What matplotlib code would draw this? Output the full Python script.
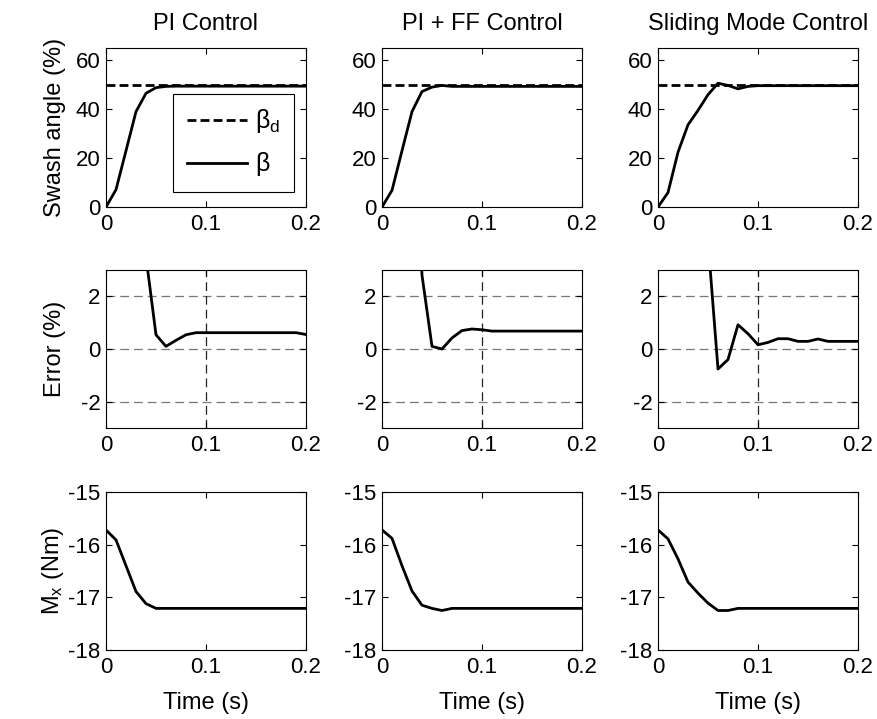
import numpy as np
import matplotlib.pyplot as plt

plt.rcParams['font.family'] = ['Liberation Sans', 'DejaVu Sans']
plt.rcParams['mathtext.fontset'] = 'custom'
plt.rcParams['mathtext.rm'] = 'Liberation Sans'
plt.rcParams['mathtext.it'] = 'Liberation Sans'
plt.rcParams['axes.unicode_minus'] = False

# time samples (s)
t = [0.00, 0.01, 0.02, 0.03, 0.04, 0.05, 0.06, 0.07, 0.08, 0.09, 0.10,
     0.11, 0.12, 0.13, 0.14, 0.15, 0.16, 0.17, 0.18, 0.19, 0.20]

titles = ["PI Control", "PI + FF Control", "Sliding Mode Control"]
beta_d = 50.0

# swash angle (%)
beta_pi = [0, 7.1, 23, 39, 46.5, 48.8, 49.3, 49.4, 49.4, 49.4, 49.4,
           49.4, 49.4, 49.4, 49.4, 49.4, 49.4, 49.4, 49.4, 49.4, 49.4]
beta_ff = [0, 6.8, 23, 39, 47.2, 49.0, 49.7, 49.3, 49.3, 49.3, 49.3,
           49.3, 49.3, 49.3, 49.3, 49.3, 49.3, 49.3, 49.3, 49.3, 49.3]
beta_smc = [0, 5.9, 22.4, 33.6, 39.5, 45.9, 50.6, 49.7, 48.3, 49.3, 49.6,
            49.6, 49.6, 49.6, 49.6, 49.6, 49.6, 49.6, 49.6, 49.6, 49.6]

# error (%)
err_pi = [50, 42.9, 27, 11, 3.5, 0.54, 0.1, 0.33, 0.54, 0.62, 0.62,
          0.62, 0.62, 0.62, 0.62, 0.62, 0.62, 0.62, 0.62, 0.62, 0.55]
err_ff = [50, 43.2, 27, 11, 2.8, 0.1, 0.0, 0.42, 0.7, 0.76, 0.73,
          0.68, 0.68, 0.68, 0.68, 0.68, 0.68, 0.68, 0.68, 0.68, 0.68]
err_smc = [50, 44.1, 27.6, 16.4, 10.5, 4.1, -0.76, -0.4, 0.92, 0.58, 0.16,
           0.25, 0.39, 0.39, 0.29, 0.29, 0.38, 0.29, 0.29, 0.29, 0.29]

# moment Mx (Nm)
mx_pi = [-15.72, -15.91, -16.4, -16.89, -17.12, -17.21, -17.21, -17.21, -17.21, -17.21, -17.21,
         -17.21, -17.21, -17.21, -17.21, -17.21, -17.21, -17.21, -17.21, -17.21, -17.21]
mx_ff = [-15.72, -15.88, -16.4, -16.88, -17.15, -17.21, -17.25, -17.21, -17.21, -17.21, -17.21,
         -17.21, -17.21, -17.21, -17.21, -17.21, -17.21, -17.21, -17.21, -17.21, -17.21]
mx_smc = [-15.72, -15.89, -16.27, -16.71, -16.92, -17.11, -17.25, -17.25, -17.21, -17.21, -17.21,
          -17.21, -17.21, -17.21, -17.21, -17.21, -17.21, -17.21, -17.21, -17.21, -17.21]

betas = [beta_pi, beta_ff, beta_smc]
errs = [err_pi, err_ff, err_smc]
mxs = [mx_pi, mx_ff, mx_smc]

fig = plt.figure(figsize=(8.78, 7.19), dpi=100)
lefts = [106, 382, 658]
rows = [(48, 207), (270, 428), (492, 650)]
W, H = 878.0, 719.0
fs_tick = 16
fs_lab = 17


def make_ax(col, row):
    l = lefts[col] / W
    top, bot = rows[row]
    ax = fig.add_axes([l, 1 - bot / H, 200 / W, (bot - top) / H])
    ax.tick_params(direction='in', top=True, right=True, length=4, width=0.8,
                   labelsize=fs_tick)
    ax.tick_params(axis='x', pad=5)
    ax.tick_params(axis='y', pad=4)
    for s in ax.spines.values():
        s.set_linewidth(0.8)
    ax.set_xlim(0, 0.2)
    ax.set_xticks([0, 0.1, 0.2])
    ax.set_xticklabels(["0", "0.1", "0.2"])
    return ax


for c in range(3):
    # swash angle
    ax = make_ax(c, 0)
    ax.plot([t[0], t[-1]], [beta_d, beta_d], 'k--', lw=2, dashes=(3.2, 1.5), label=r'$\beta_d$')
    ax.plot(t, betas[c], 'k-', lw=2, label=r'$\beta$')
    ax.set_ylim(0, 65)
    ax.set_yticks([0, 20, 40, 60])
    ax.set_title(titles[c], fontsize=fs_lab, pad=13)
    if c == 0:
        ax.set_ylabel("Swash angle (%)", fontsize=fs_lab)
        ax.yaxis.set_label_coords(-0.2, 0.5)
        leg = ax.legend(loc='lower right', bbox_to_anchor=(0.94, 0.094), borderaxespad=0,
                        fontsize=18, fancybox=False, framealpha=1, edgecolor='k',
                        handlelength=2.4, handletextpad=0.35, borderpad=0.55,
                        labelspacing=0.6)
        leg.get_frame().set_linewidth(0.8)

    # error
    ax = make_ax(c, 1)
    ax.set_ylim(-3, 3)
    ax.set_yticks([-2, 0, 2])
    for yv in [-2, 0, 2]:
        ax.axhline(yv, color='#777777', lw=0.9, ls=(0, (7, 4)), zorder=1)
    ax.axvline(0.1, color='#222222', lw=0.9, ls=(0, (7, 4)), zorder=1)
    ax.plot(t, errs[c], 'k-', lw=2, zorder=3)
    if c == 0:
        ax.set_ylabel("Error (%)", fontsize=fs_lab)
        ax.yaxis.set_label_coords(-0.2, 0.5)

    # moment
    ax = make_ax(c, 2)
    ax.plot(t, mxs[c], 'k-', lw=2)
    ax.set_ylim(-18, -15)
    ax.set_yticks([-18, -17, -16, -15])
    ax.set_xlabel("Time (s)", fontsize=fs_lab)
    ax.xaxis.set_label_coords(0.5, -0.266)
    if c == 0:
        ax.set_ylabel(r"M$_x$ (Nm)", fontsize=fs_lab)
        ax.yaxis.set_label_coords(-0.2, 0.5)

fig.savefig("out.png", dpi=100)
